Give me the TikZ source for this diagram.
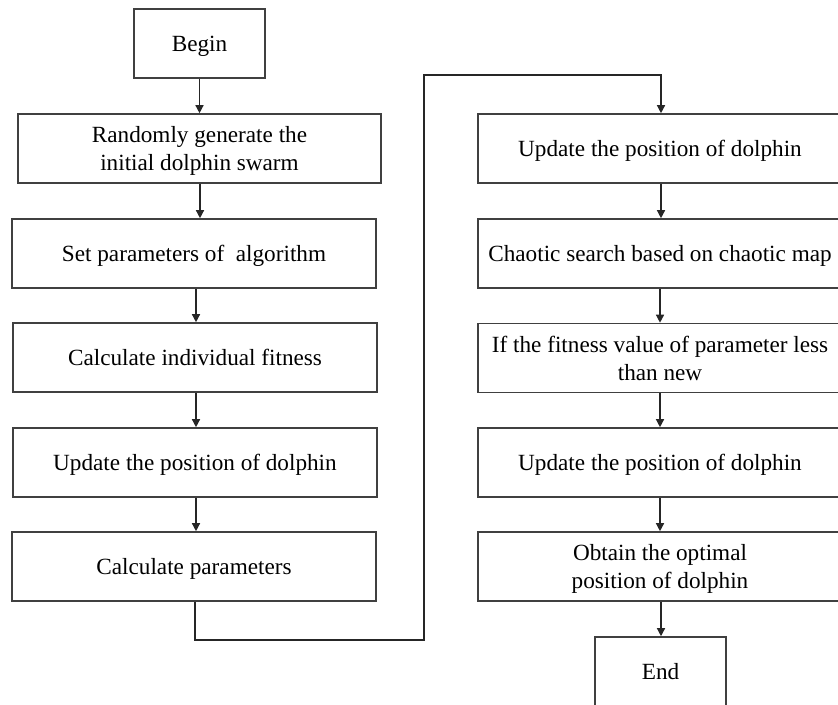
\documentclass[tikz,border=0pt]{standalone}
\usepackage{fontspec}
\setmainfont{Liberation Serif}
\usetikzlibrary{arrows.meta}

\begin{document}
\begin{tikzpicture}[
    x=0.75pt, y=-0.75pt,
    font=\fontsize{17.4}{21}\selectfont,
    stepbox/.style={draw=black!75, line width=1.2pt, align=center,
      minimum width=273pt, minimum height=51.75pt, inner sep=0pt,
      text depth=0pt},
    termbox/.style={stepbox, minimum width=98.25pt},
    flow/.style={draw=black!85, line width=1pt,
      -{Triangle[width=6pt,length=6pt]}}
  ]
  \useasboundingbox (0,0) rectangle (838,704);
  \clip (0,0) rectangle (838,704);

  % left column
  \node[termbox] (begin) at (199.5,43.5) {Begin};
  \node[stepbox, minimum width=272.25pt] (gen) at (199.5,148.5)
    {Randomly generate the\\initial dolphin swarm};
  \node[stepbox] (set) at (194,253.5) {Set parameters of ~algorithm};
  \node[stepbox] (fit) at (195,357.5) {Calculate individual fitness};
  \node[stepbox] (upd) at (195,462.5) {Update the position of dolphin};
  \node[stepbox] (calc) at (194,566.5) {Calculate parameters};

  % right column
  \node[stepbox] (upda) at (660,148.5) {Update the position of dolphin};
  \node[stepbox] (chaos) at (660,253.5) {Chaotic search based on chaotic map};
  \node[stepbox] (cmp) at (660,358)
    {If the fitness value of parameter less\\than new};
  \node[stepbox] (updb) at (660,462.5) {Update the position of dolphin};
  \node[stepbox] (opt) at (660,566.5)
    {Obtain the optimal\\position of dolphin};
  \node[termbox] (end) at (660.5,671.5) {End};

  \coordinate (low) at (424,640);
  \coordinate (high) at (424,75);

  \draw[flow] (begin) -- (gen);
  \draw[flow] (gen.south -| 200,0) -- (set.north -| 200,0);
  \draw[flow] (set.south -| 196,0) -- (fit.north -| 196,0);
  \draw[flow] (fit.south -| 196,0) -- (upd.north -| 196,0);
  \draw[flow] (upd.south -| 196,0) -- (calc.north -| 196,0);
  \draw[flow] (calc.south -| 195,0) |- (low) -- (high) -| (upda.north -| 661,0);
  \draw[flow] (upda.south -| 661,0) -- (chaos.north -| 661,0);
  \draw[flow] (chaos.south -| 660,0) -- (cmp.north -| 660,0);
  \draw[flow] (cmp.south -| 660,0) -- (updb.north -| 660,0);
  \draw[flow] (updb.south -| 660,0) -- (opt.north -| 660,0);
  \draw[flow] (opt.south -| 661,0) -- (end.north -| 661,0);
\end{tikzpicture}
\end{document}
